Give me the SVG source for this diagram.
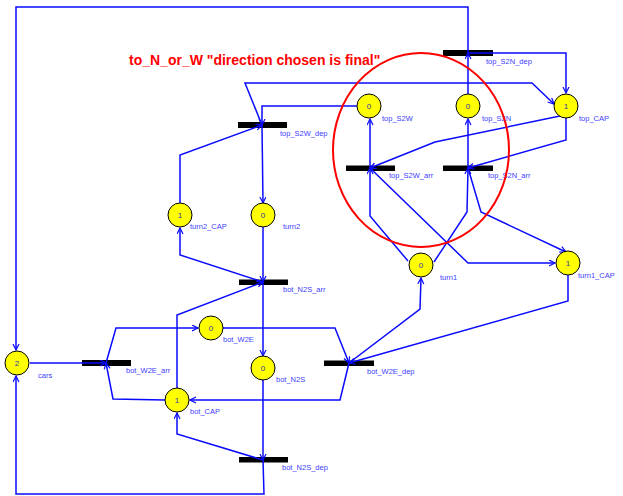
<svg xmlns="http://www.w3.org/2000/svg" width="623" height="496" viewBox="0 0 623 496">
<style>
.tr{fill:#000}
.pl{fill:#ffff00;stroke:#000;stroke-width:1}
.tok{font-family:"Liberation Sans",Arial,sans-serif;font-size:8px;fill:#3333aa;text-anchor:middle}
.lbl{font-family:"Liberation Sans",Arial,sans-serif;font-size:7.5px;fill:#4040ff}
.c{fill:none;stroke:#0a0aff;stroke-width:1.5;marker-end:url(#ah)}
.note{font-family:"Liberation Sans",Arial,sans-serif;font-size:14px;font-weight:bold;fill:#ff0000}
</style>
<defs>
<marker id="ah" markerUnits="userSpaceOnUse" markerWidth="8" markerHeight="8" refX="6.5" refY="3.5" orient="auto" viewBox="0 0 8 8">
<path d="M0.5,0.5 L6.5,3.5 L0.5,6.5" fill="none" stroke="#0a0aff" stroke-width="1.2"/>
</marker>
</defs>
<rect width="623" height="496" fill="#fff"/>

<g id="transitions">
<g id="top_S2N_dep"><rect class="tr" x="443" y="50" width="50" height="6"/><text class="lbl" x="486" y="64">top_S2N_dep</text></g>
<g id="top_S2W_dep"><rect class="tr" x="238" y="122" width="49" height="6"/><text class="lbl" x="280" y="136">top_S2W_dep</text></g>
<g id="top_S2W_arr"><rect class="tr" x="346" y="165.5" width="49" height="5.5"/><text class="lbl" x="389" y="178">top_S2W_arr</text></g>
<g id="top_S2N_arr"><rect class="tr" x="443" y="165.5" width="50" height="5.5"/><text class="lbl" x="488" y="178">top_S2N_arr</text></g>
<g id="bot_N2S_arr"><rect class="tr" x="239" y="279.5" width="49" height="5.5"/><text class="lbl" x="283" y="292">bot_N2S_arr</text></g>
<g id="bot_W2E_arr"><rect class="tr" x="82" y="360" width="49" height="6"/><text class="lbl" x="126" y="373">bot_W2E_arr</text></g>
<g id="bot_W2E_dep"><rect class="tr" x="324" y="360.5" width="50" height="5.5"/><text class="lbl" x="367" y="374">bot_W2E_dep</text></g>
<g id="bot_N2S_dep"><rect class="tr" x="239" y="457" width="49" height="5.5"/><text class="lbl" x="282" y="470">bot_N2S_dep</text></g>
</g>

<g id="connectors">
<path class="c" d="M468,53 L468,7 L16,7 L16,350"/>
<path class="c" d="M468,94 L468,53"/>
<path class="c" d="M468,53 L566,53 L566,93"/>
<path class="c" d="M262,125 L245,83 L532,83 L554,104"/>
<path class="c" d="M357,106 L262,106 L262,125"/>
<path class="c" d="M180,203 L180,155 L262,125"/>
<path class="c" d="M262,125 L263,203"/>
<path class="c" d="M263,227 L263,282"/>
<path class="c" d="M263,282 L180,255 L180,228"/>
<path class="c" d="M177,388 L177,315 L263,282"/>
<path class="c" d="M263,282 L263,356"/>
<path class="c" d="M263,380 L263,460"/>
<path class="c" d="M263,460 L177,434 L177,413"/>
<path class="c" d="M263,460 L264,494 L16,494 L16,376"/>
<path class="c" d="M30,363 L106,363"/>
<path class="c" d="M106,363 L116,328 L198,328"/>
<path class="c" d="M165,400 L113,399 L106,363"/>
<path class="c" d="M223,328 L335,328 L349,363"/>
<path class="c" d="M349,363 L340,400 L190,400"/>
<path class="c" d="M349,363 L420,309 L421,278"/>
<path class="c" d="M568,275 L568,301 L349,363"/>
<path class="c" d="M408,261 L370,216 L370,168"/>
<path class="c" d="M434,262 L467,212 L468,168"/>
<path class="c" d="M370,168 L468,263 L555,263"/>
<path class="c" d="M468,168 L481,212 L566,252"/>
<path class="c" d="M560,116 L435,142 L370,168"/>
<path class="c" d="M566,118 L566,140 L468,168"/>
<path class="c" d="M370,168 L370,119"/>
<path class="c" d="M468,168 L468,119"/>
</g>

<g id="cars"><circle class="pl" cx="17" cy="363" r="12"/><text class="tok" x="17" y="366">2</text><text class="lbl" x="38" y="378">cars</text></g>
<g id="bot_W2E"><circle class="pl" cx="211" cy="328" r="12"/><text class="tok" x="211" y="331">0</text><text class="lbl" x="223" y="342">bot_W2E</text></g>
<g id="bot_N2S"><circle class="pl" cx="263" cy="368" r="12"/><text class="tok" x="263" y="371">0</text><text class="lbl" x="276" y="382">bot_N2S</text></g>
<g id="bot_CAP"><circle class="pl" cx="177" cy="400" r="12"/><text class="tok" x="177" y="403">1</text><text class="lbl" x="190" y="414">bot_CAP</text></g>
<g id="turn2_CAP"><circle class="pl" cx="180" cy="215" r="12"/><text class="tok" x="180" y="218">1</text><text class="lbl" x="190" y="229">turn2_CAP</text></g>
<g id="turn2"><circle class="pl" cx="263" cy="215" r="12"/><text class="tok" x="263" y="218">0</text><text class="lbl" x="283" y="229">turn2</text></g>
<g id="top_S2W"><circle class="pl" cx="369" cy="106" r="12"/><text class="tok" x="369" y="109">0</text><text class="lbl" x="382" y="121">top_S2W</text></g>
<g id="top_S2N"><circle class="pl" cx="468" cy="106" r="12"/><text class="tok" x="468" y="109">0</text><text class="lbl" x="482" y="121">top_S2N</text></g>
<g id="top_CAP"><circle class="pl" cx="566" cy="106" r="12"/><text class="tok" x="566" y="109">1</text><text class="lbl" x="579" y="121">top_CAP</text></g>
<g id="turn1"><circle class="pl" cx="421" cy="265" r="12"/><text class="tok" x="421" y="268">0</text><text class="lbl" x="440" y="280">turn1</text></g>
<g id="turn1_CAP"><circle class="pl" cx="568" cy="263" r="12"/><text class="tok" x="568" y="266">1</text><text class="lbl" x="578" y="278">turn1_CAP</text></g>

<g id="annotation">
<ellipse cx="421" cy="150" rx="88" ry="97" fill="none" stroke="#ff0000" stroke-width="2"/>
<text class="note" x="129" y="65">to_N_or_W "direction chosen is final"</text>
</g>
</svg>
